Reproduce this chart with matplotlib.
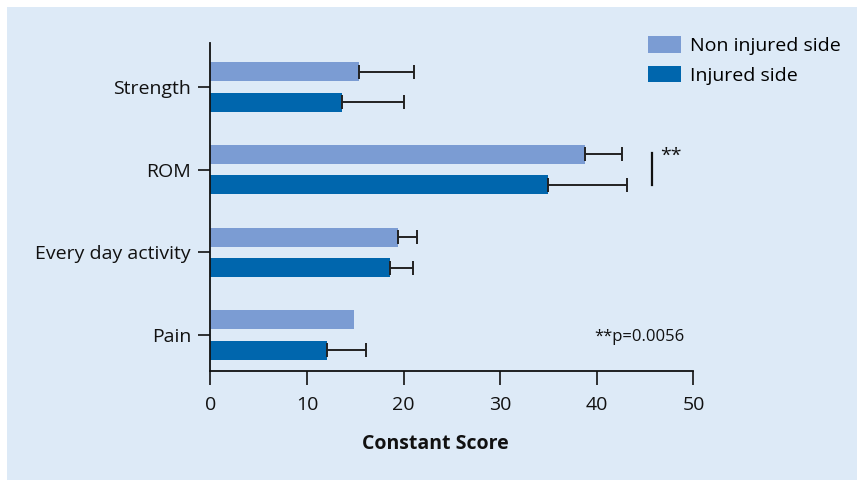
import matplotlib.pyplot as plt
import numpy as np
from matplotlib.patches import Rectangle

plt.rcParams["font.family"] = ["Open Sans", "DejaVu Sans"]

# Constant score subscales, listed bottom to top
categories = ["Pain", "Every day activity", "ROM", "Strength"]
non_injured = [14.9, 19.4, 38.8, 15.4]
non_injured_err = [0.0, 2.0, 3.8, 5.7]
injured = [12.1, 18.6, 34.9, 13.6]
injured_err = [4.0, 2.4, 8.2, 6.4]

LIGHT = "#7B9CD3"
DARK = "#0066AD"
PANEL = "#DDEAF7"
INK = "#111111"

fig = plt.figure(figsize=(8.57, 4.8), dpi=100)
fig.patch.set_facecolor("white")
fig.patches.append(Rectangle((7 / 857, 0), 1, 1 - 7 / 480, transform=fig.transFigure,
                             facecolor=PANEL, edgecolor="none", zorder=-10))

ax = fig.add_axes([0.2456, 0.2271, 0.5636, 0.6833])
ax.set_facecolor("none")

y = np.arange(len(categories))
off = 0.184
h = 0.23

ax.barh(y + off, non_injured, height=h, color=LIGHT, label="Non injured side")
ax.barh(y - off, injured, height=h, color=DARK, label="Injured side")


def whiskers(ys, vals, errs):
    # one-sided SD whiskers, skipped where no SD is shown
    for yy, v, e in zip(ys, vals, errs):
        if e <= 0:
            continue
        ax.errorbar(v, yy, xerr=[[0], [e]], fmt="none", ecolor="#222222",
                    elinewidth=1.4, capsize=5, capthick=1.4)


whiskers(y + off, non_injured, non_injured_err)
whiskers(y - off, injured, injured_err)

ax.set_xlim(0, 50)
ax.set_ylim(-0.435, 3.53)
ax.set_xticks([0, 10, 20, 30, 40, 50])
ax.set_yticks(y)
ax.set_yticklabels(categories)
ax.tick_params(axis="x", length=10, width=1.2, pad=8, labelsize=14, colors=INK)
ax.tick_params(axis="y", length=9, width=1.2, pad=5, labelsize=14, colors=INK)
for side in ["top", "right"]:
    ax.spines[side].set_visible(False)
for side in ["left", "bottom"]:
    ax.spines[side].set_linewidth(1.3)
    ax.spines[side].set_color(INK)

ax.set_xlabel("Constant Score", fontsize=14, fontweight="bold", color=INK)
ax.xaxis.set_label_coords(0.465, -0.193)

# significance bracket for ROM
rom = categories.index("ROM")
ax.plot([45.7, 45.7], [rom + 0.2, rom - 0.19], color=INK, lw=1.6, clip_on=False)
ax.text(46.5, rom + 0.16, "**", fontsize=14, ha="left", va="center", color=INK)
ax.text(49.1, -0.02, "**p=0.0056", fontsize=12, ha="right", va="center", color=INK)

ax.legend(loc="upper left", bbox_to_anchor=(0.905, 1.02), frameon=False, fontsize=14,
          handlelength=1.7, handleheight=0.9, handletextpad=0.5, labelspacing=0.55,
          borderaxespad=0, borderpad=0)

fig.savefig("out.png", dpi=100, facecolor=fig.get_facecolor())
